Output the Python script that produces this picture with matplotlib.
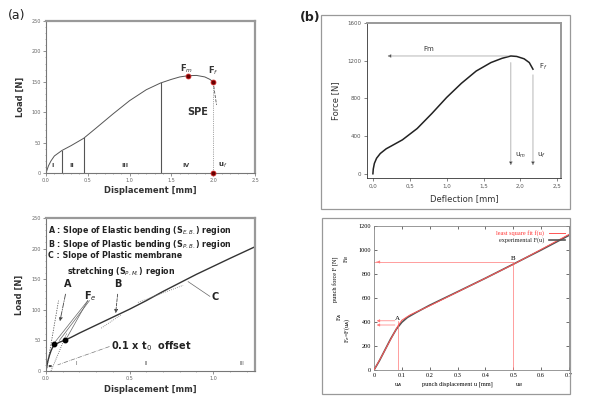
import matplotlib
matplotlib.use("Agg")
import matplotlib.pyplot as plt
from matplotlib.patches import Rectangle

W, H = 589, 396

# (a) top: load-displacement curve, SPE
disp_a1 = [0.0, 0.03, 0.06, 0.1, 0.19, 0.3, 0.45, 0.6, 0.8, 1.0, 1.2, 1.37, 1.5, 1.6, 1.7, 1.8, 1.9, 1.96, 2.0]
load_a1 = [0, 12, 20, 28, 37, 45, 57, 74, 97, 119, 137, 148, 154, 158, 160, 160.5, 158, 154, 150]
drop_x = [2.0, 2.02, 2.04]
drop_y = [150, 130, 112]
region_x = [0.19, 0.45, 1.37]
region_labels_a1 = ["I", "II", "III", "IV"]
region_label_x = [0.08, 0.31, 0.95, 1.68]
fm_pt = (1.7, 160)
ff_pt = (2.0, 150)

# (b) top: force-deflection
defl_b1 = [0.0, 0.005, 0.02, 0.05, 0.1, 0.18, 0.25, 0.4, 0.6, 0.8, 1.0, 1.2, 1.4, 1.6, 1.75, 1.87, 1.95, 2.05, 2.12, 2.17]
force_b1 = [0, 50, 110, 165, 215, 265, 295, 360, 480, 640, 810, 960, 1090, 1180, 1225, 1250, 1245, 1220, 1180, 1110]
xticks_b1 = [0.0, 0.5, 1.0, 1.5, 2.0, 2.5]
xticklabels_b1 = ["0,0", "0,5", "1,0", "1,5", "2,0", "2,5"]
um, uf = 1.87, 2.17

# (a) bottom: zoomed load-displacement
disp_a2 = [0.0, 0.005, 0.01, 0.02, 0.03, 0.04, 0.06, 0.08, 0.11, 0.15, 0.2, 0.3, 0.4, 0.5, 0.6, 0.7, 0.8, 0.9, 1.0, 1.1, 1.25]
load_a2 = [0, 8, 15, 25, 33, 39, 44, 47, 50, 55, 62, 75, 88, 101, 115, 130, 144, 158, 171, 184, 203]
dots_a2_x = [0.045, 0.115]
dots_a2_y = [44, 50]
legend_lines_a2 = [r"A : Slope of Elastic bending (S$_{E.B.}$) region",
                   r"B : Slope of Plastic bending (S$_{P.B.}$) region",
                   r"C : Slope of Plastic membrane",
                   r"       stretching (S$_{P.M.}$) region"]

# (b) bottom: punch force
u_exp = [0.0, 0.02, 0.04, 0.06, 0.08, 0.1, 0.12, 0.15, 0.2, 0.3, 0.4, 0.5, 0.6, 0.7]
f_exp = [0, 80, 170, 260, 340, 398, 438, 478, 540, 652, 765, 882, 1000, 1122]
u_fit = [0.0, 0.03, 0.06, 0.085, 0.1, 0.13, 0.2, 0.5, 0.7]
f_fit = [0, 125, 255, 365, 415, 460, 535, 880, 1130]
uA, uB = 0.085, 0.5
FA, Fe, FB = 410, 375, 900

fig = plt.figure(figsize=(W / 100, H / 100), dpi=100)


def px_axes(x0, y0, x1, y1):
    return fig.add_axes([x0 / W, 1 - y1 / H, (x1 - x0) / W, (y1 - y0) / H])


def style_a(ax):
    for s in ["left", "bottom"]:
        ax.spines[s].set_color("#777777")
        ax.spines[s].set_linewidth(0.8)
    for s in ["top", "right"]:
        ax.spines[s].set_color("#999999")
        ax.spines[s].set_linewidth(1.6)
    ax.tick_params(labelsize=3.5, colors="#666666", length=2, width=0.5, pad=1.5)
    ax.minorticks_on()
    ax.tick_params(which="minor", length=1, width=0.4, colors="#777777")


# ---------------- (a) top ----------------
ax1 = px_axes(46, 21, 255, 173)
ax1.plot(disp_a1, load_a1, color="#555555", lw=0.7)
ax1.plot(drop_x, drop_y, color="#555555", lw=0.6, ls="--")
for x in region_x:
    y = load_a1[disp_a1.index(x)]
    ax1.plot([x, x], [0, y], color="#555555", lw=0.8)
for lab, x in zip(region_labels_a1, region_label_x):
    ax1.text(x, 10, lab, fontsize=4.5, fontweight="bold", color="#444444", ha="center")
ax1.plot([2.0, 2.0], [0, 150], color="#555555", lw=0.5, ls=":")
for px, py in [fm_pt, ff_pt, (2.0, 0)]:
    ax1.plot(px, py, "o", ms=3.5, mfc="#6b0000", mec="#cc2222", mew=0.6, clip_on=False, zorder=5)
ax1.text(1.68, 167, r"F$_m$", fontsize=6, fontweight="bold", color="#333333", ha="center")
ax1.text(2.0, 163, r"F$_f$", fontsize=6, fontweight="bold", color="#333333", ha="center")
ax1.text(2.06, 10, r"u$_f$", fontsize=5, fontweight="bold", color="#333333")
ax1.text(1.81, 95, "SPE", fontsize=7, fontweight="bold", color="#333333", ha="center")
ax1.set_xlim(0, 2.5)
ax1.set_ylim(0, 250)
ax1.set_xticks([0, 0.5, 1.0, 1.5, 2.0, 2.5])
ax1.set_yticks([0, 50, 100, 150, 200, 250])
style_a(ax1)
ax1.set_xlabel("Displacement [mm]", fontsize=6, fontweight="bold", color="#333333", labelpad=2)
ax1.set_ylabel("Load [N]", fontsize=6, fontweight="bold", color="#333333", labelpad=5)
fig.text(8 / W, 1 - 19 / H, "(a)", fontsize=9, color="#222222")

# ---------------- (a) bottom ----------------
ax3 = px_axes(46, 218, 255, 371)
ax3.plot(disp_a2, load_a2, color="#333333", lw=1.0)
# tangent lines
ax3.plot([0.005, 0.075], [5, 115], color="#555555", lw=0.6, ls=(0, (1.5, 1.5)))
ax3.plot([0.03, 0.125], [0, 62], color="#555555", lw=0.6, ls=(0, (1, 1.5)))
ax3.plot([0.33, 0.45], [70, 92], color="#777777", lw=0.6, ls=(0, (1, 1.5)))
ax3.plot([0.55, 0.82], [112, 140], color="#777777", lw=0.6, ls=(0, (1, 1.5)))
ax3.plot(dots_a2_x, dots_a2_y, "o", ms=3.2, color="black", zorder=5)
ax3.annotate("", xy=(0.08, 77), xytext=(0.12, 130),
             arrowprops=dict(arrowstyle="-|>", lw=0.6, color="#444444", ls="-.", mutation_scale=5))
ax3.text(0.13, 138, "A", fontsize=7, fontweight="bold", color="#222222", ha="center")
ax3.text(0.265, 118, r"F$_e$", fontsize=7, fontweight="bold", color="#222222", ha="center")
ax3.plot([0.25, 0.05], [115, 46], color="#666666", lw=0.5)
ax3.plot([0.25, 0.12], [115, 52], color="#666666", lw=0.5)
ax3.plot([0.26, 0.08], [115, 50], color="#666666", lw=0.5)
ax3.text(0.43, 138, "B", fontsize=7, fontweight="bold", color="#222222", ha="center")
ax3.annotate("", xy=(0.415, 90), xytext=(0.43, 130),
             arrowprops=dict(arrowstyle="-|>", lw=0.6, color="#444444", ls="--", mutation_scale=5))
ax3.text(1.01, 116, "C", fontsize=7, fontweight="bold", color="#222222", ha="center")
ax3.plot([0.98, 0.85], [122, 146], color="#666666", lw=0.5)
ax3.text(0.39, 36, r"0.1 x t$_0$  offset", fontsize=7, fontweight="bold", color="#222222")
ax3.plot([0.38, 0.07], [40, 10], color="#777777", lw=0.5, ls="-.")
ax3.annotate("", xy=(0.0, 8), xytext=(0.05, 8),
             arrowprops=dict(arrowstyle="<|-|>", lw=0.5, color="#444444", mutation_scale=3))
for lab, x in zip(["I", "II", "III"], [0.18, 0.6, 1.17]):
    ax3.text(x, 10, lab, fontsize=4, color="#555555", ha="center")
for i, line in enumerate(legend_lines_a2):
    ax3.text(0.01, 240 - i * 22, line, fontsize=5.7, fontweight="bold", color="#222222", va="top")
ax3.set_xlim(0, 1.25)
ax3.set_ylim(0, 250)
ax3.set_xticks([0, 0.5, 1.0])
ax3.set_yticks([0, 50, 100, 150, 200, 250])
style_a(ax3)
ax3.set_xlabel("Displacement [mm]", fontsize=6, fontweight="bold", color="#333333", labelpad=3)
ax3.set_ylabel("Load [N]", fontsize=6, fontweight="bold", color="#333333", labelpad=6)

# ---------------- (b) top ----------------
fig.patches.append(Rectangle((321 / W, 1 - 209 / H), (570 - 321) / W, (209 - 15) / H,
                             transform=fig.transFigure, fill=False, ec="#999999", lw=0.9))
fig.text(300 / W, 1 - 21 / H, "(b)", fontsize=9, fontweight="bold", color="#222222")
ax2 = px_axes(367, 23, 561, 178)
ax2.plot(defl_b1, force_b1, color="#222222", lw=1.1)
ax2.annotate("", xy=(0.16, 1250), xytext=(um, 1250),
             arrowprops=dict(arrowstyle="-|>", lw=0.5, color="#999999", mutation_scale=5, fc="black"))
ax2.text(0.68, 1300, "Fm", fontsize=5, color="#333333")
ax2.text(2.25, 1110, r"F$_f$", fontsize=5, color="#333333")
ax2.annotate("", xy=(um, 60), xytext=(um, 1210),
             arrowprops=dict(arrowstyle="-|>", lw=0.5, color="#999999", mutation_scale=5, fc="black"))
ax2.annotate("", xy=(uf, 60), xytext=(uf, 1080),
             arrowprops=dict(arrowstyle="-|>", lw=0.5, color="#999999", mutation_scale=5, fc="black"))
ax2.text(1.93, 180, r"u$_m$", fontsize=5, color="#333333")
ax2.text(2.23, 180, r"u$_f$", fontsize=5, color="#333333")
ax2.set_xlim(-0.08, 2.55)
ax2.set_ylim(-45, 1600)
ax2.set_xticks(xticks_b1)
ax2.set_xticklabels(xticklabels_b1)
ax2.set_yticks([0, 400, 800, 1200, 1600])
for s in ["left", "bottom"]:
    ax2.spines[s].set_color("#333333")
    ax2.spines[s].set_linewidth(0.6)
for s in ["top", "right"]:
    ax2.spines[s].set_color("#999999")
    ax2.spines[s].set_linewidth(1.4)
ax2.tick_params(labelsize=4, colors="#555555", length=2, width=0.5, pad=2)
ax2.set_xlabel("Deflection [mm]", fontsize=6, color="#333333", labelpad=4)
ax2.set_ylabel("Force [N]", fontsize=6, color="#333333", labelpad=5)

# ---------------- (b) bottom ----------------
fig.patches.append(Rectangle((322 / W, 1 - 394 / H), (570 - 322) / W, (394 - 218) / H,
                             transform=fig.transFigure, fill=False, ec="#999999", lw=0.9))
ax4 = px_axes(374, 226, 569, 370)
serif = ["Liberation Serif", "DejaVu Serif"]
ax4.plot(u_fit, f_fit, color="#ff5555", lw=0.7, label="least square fit f(u)", zorder=3)
ax4.plot(u_exp, f_exp, color="#555555", lw=1.2, label="experimental F(u)", zorder=2)
red = "#ff7777"
ax4.plot([0, uB], [FB, FB], color=red, lw=0.5)
ax4.plot([uB, uB], [0, FB], color=red, lw=0.5)
ax4.plot([uA, uA], [0, FA], color=red, lw=0.5)
for yv in [FA, Fe]:
    ax4.annotate("", xy=(0, yv), xytext=(uA, yv),
                 arrowprops=dict(arrowstyle="-|>", lw=0.5, color=red, mutation_scale=4))
ax4.annotate("", xy=(0, FB), xytext=(0.02, FB),
             arrowprops=dict(arrowstyle="-|>", lw=0.5, color=red, mutation_scale=4))
ax4.text(uA, FA + 10, "A", fontsize=5, family=serif, ha="center")
ax4.text(uB, FB + 15, "B", fontsize=5, family=serif, ha="center")
ax4.set_xlim(0, 0.7)
ax4.set_ylim(0, 1200)
ax4.set_xticks([0, 0.1, 0.2, 0.3, 0.4, 0.5, 0.6, 0.7])
ax4.set_xticklabels(["0", "0.1", "0.2", "0.3", "0.4", "0.5", "0.6", "0.7"])
ax4.set_yticks([0, 200, 400, 600, 800, 1000, 1200])
ax4.tick_params(direction="in", top=True, right=True, labelsize=4.5, length=2, width=0.4, pad=2)
for lab in ax4.get_xticklabels() + ax4.get_yticklabels():
    lab.set_family(serif)
for s in ax4.spines.values():
    s.set_color("#888888")
    s.set_linewidth(0.6)
ax4.text(uA, -95, r"u$_A$", fontsize=4.5, family=serif, ha="center", va="top")
ax4.text(uB + 0.005, -95, r"u$_B$", fontsize=4.5, family=serif, ha="left", va="top")
ax4.text(0.3, -95, "punch displacement u [mm]", fontsize=4.5, family=serif, ha="center", va="top")
ax4.text(-0.135, 760, "punch force F [N]", fontsize=4.5, family=serif, rotation=90, ha="center", va="center")
ax4.text(-0.1, FB + 30, r"F$_B$", fontsize=4.5, family=serif, rotation=90, ha="center", va="center")
ax4.text(-0.125, 440, r"F$_A$", fontsize=4.5, family=serif, rotation=90, ha="center", va="center")
ax4.text(-0.095, 330, r"F$_e$=F(u$_A$)", fontsize=4.5, family=serif, rotation=90, ha="center", va="center")
leg = ax4.legend(loc="upper right", frameon=False, markerfirst=False,
                 handlelength=2.5, borderaxespad=0.3, labelspacing=0.2,
                 prop={"family": serif, "size": 4.5})
leg.get_texts()[0].set_color("#ff3333")
leg.get_texts()[1].set_color("#222222")

fig.savefig("out.png", dpi=100)
